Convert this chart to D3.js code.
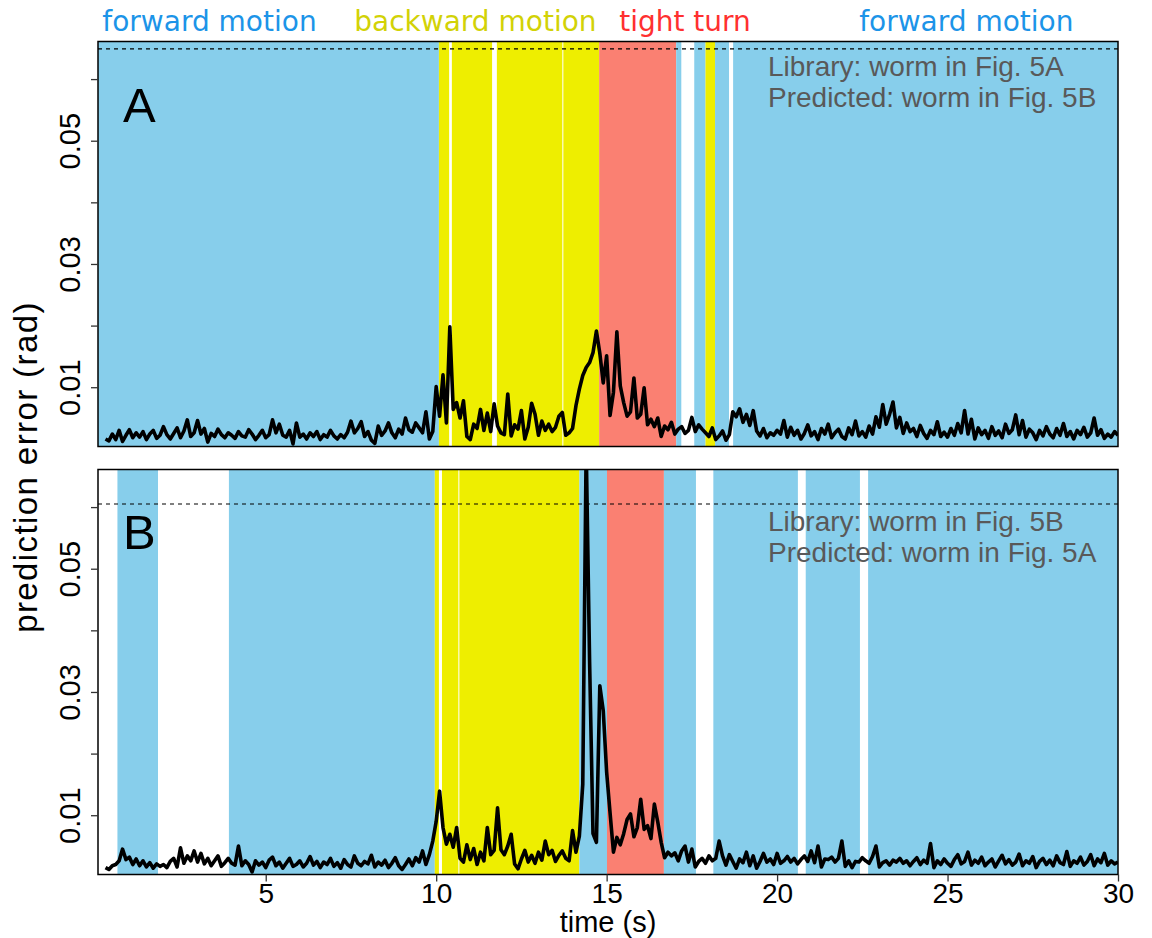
<!DOCTYPE html>
<html>
<head>
<meta charset="utf-8">
<script src="https://cdn.jsdelivr.net/npm/d3@7"></script>
<style>
  body { margin: 0; background: #fff; }
  svg { display: block; }
</style>
</head>
<body>
<div id="chart"></div>
<script>
const width = 1152;
const height = 938;

// sampling of the error traces (s)
const tStart = 0.3;
const tStep = 0.1;

// prediction error, in units of 0.001 rad
const errorA = [
  1.6, 1.3, 2.4, 1.5, 3.0, 1.2, 2.2,
  3.1, 1.8, 2.6, 1.9, 2.8, 1.5, 2.4, 3.0, 1.7, 2.2,
  3.6, 2.3, 1.6, 2.5, 3.4, 1.8, 2.9, 4.7, 2.0, 2.6,
  4.6, 2.4, 3.3, 1.1, 2.5, 2.0, 3.2, 2.3, 1.8, 2.6,
  2.2, 1.7, 2.8, 2.1, 1.9, 3.1, 2.4, 1.5, 2.2, 3.0,
  1.8, 2.3, 4.7, 2.6, 4.0, 2.2, 1.9, 3.0, 0.8, 4.2,
  1.9, 2.4, 1.6, 2.6, 2.0, 2.8, 1.5, 2.3, 1.9, 3.0,
  2.1, 1.6, 2.3, 1.8, 2.7, 4.5, 2.6, 3.3, 4.4, 2.0,
  2.8, 1.4, 0.9, 3.7, 2.2, 2.9, 4.2, 2.6, 1.8, 3.2,
  2.4, 5.0, 3.1, 2.7, 4.2, 3.4, 2.6, 6.0, 1.6, 2.8,
  10.1, 5.3, 12.0, 4.2, 19.8, 6.4, 7.5, 5.0, 7.8, 2.0,
  1.5, 4.0, 3.3, 6.4, 3.0, 5.8, 2.8, 7.3, 3.7, 2.6,
  2.3, 8.9, 2.1, 3.9, 3.2, 6.2, 1.6, 3.5, 7.4, 5.6,
  2.2, 4.5, 3.0, 4.0, 2.8, 3.5, 5.3, 5.9, 2.2, 2.6,
  3.3, 7.0, 9.7, 11.9, 13.2, 14.0, 15.6, 19.1, 15.5, 10.7,
  15.1, 5.4, 9.2, 19.0, 10.2, 7.5, 5.3, 6.0, 11.5, 5.0,
  5.6, 9.9, 3.9, 4.8, 3.6, 5.0, 2.0, 3.7, 3.1, 4.3,
  2.4, 3.2, 3.6, 2.5, 3.0, 5.1, 2.8, 3.9, 3.2, 2.6,
  2.0, 3.4, 1.5, 2.1, 2.9, 1.4, 2.3, 6.0, 5.2, 6.5,
  4.3, 5.6, 3.8, 6.2, 2.9, 2.1, 3.3, 1.8, 2.6, 2.2,
  3.0, 2.4, 4.6, 1.9, 3.5, 2.2, 3.0, 1.6, 2.5, 3.9,
  2.1, 2.8, 1.5, 3.3, 2.4, 4.0, 1.8, 2.6, 3.2, 2.0,
  1.6, 3.4, 2.3, 4.5, 2.1, 2.8, 1.9, 3.7, 2.4, 5.2,
  3.5, 7.2, 4.0, 5.6, 7.6, 3.4, 5.1, 2.5, 4.2, 2.8,
  3.3, 2.0, 3.8, 2.5, 1.7, 3.0, 2.3, 4.4, 2.0, 2.7,
  1.9, 3.3, 2.2, 4.1, 2.6, 6.2, 2.4, 4.8, 1.6, 3.4,
  2.3, 3.0, 1.7, 3.6, 2.2, 2.9, 1.8, 4.0, 2.5, 3.1,
  5.5, 2.3, 4.6, 1.9, 3.2, 2.6, 1.5, 3.0, 2.1, 3.6,
  2.4, 1.8, 3.3, 2.2, 4.1, 2.0, 2.8, 1.6, 3.0, 2.3,
  3.5, 1.9, 2.6, 5.0, 2.2, 3.1, 1.7, 2.4, 1.9, 2.8,
  2.2
];

const errorB = [
  1.5, 1.2, 1.8, 2.0, 2.6, 4.5, 2.8,
  3.2, 2.0, 2.9, 1.8, 2.6, 1.6, 2.3, 1.4, 2.1, 1.7,
  2.0, 1.5, 2.5, 3.0, 1.6, 4.7, 2.2, 3.4, 2.6, 4.2,
  2.4, 3.8, 2.1, 3.0, 1.8, 2.6, 3.4, 1.7, 2.3, 3.0,
  2.2, 1.9, 5.0, 1.8, 2.6, 2.0, 0.8, 2.6, 1.9, 2.4,
  1.5, 2.7, 3.2, 1.8, 2.4, 1.4, 2.2, 3.0, 1.7, 2.0,
  2.6, 1.6, 2.2, 3.3, 1.9, 2.5, 1.5, 2.4, 2.0, 3.0,
  1.7, 2.3, 1.4, 2.8, 2.0, 1.6, 3.4, 2.2, 1.8, 2.5,
  2.1, 3.5, 1.6, 2.4, 1.9, 2.7, 1.5, 2.2, 3.1, 1.8,
  1.2, 2.0, 2.9, 1.8, 3.1, 2.4, 4.2, 2.0, 3.6, 5.8,
  9.0, 13.9, 8.0, 5.3, 6.9, 4.8, 8.0, 3.0, 2.4, 5.2,
  2.8, 4.6, 2.0, 4.0, 2.6, 8.0, 3.6, 4.3, 11.2, 4.4,
  3.6, 5.0, 6.9, 2.1, 1.3, 2.9, 4.3, 2.4, 3.5, 2.2,
  4.0, 2.7, 5.8, 3.6, 4.3, 2.5, 3.5, 4.2, 3.0, 2.6,
  7.5, 4.0, 6.6, 15.0, 70.0, 35.0, 7.0, 5.6, 31.0, 27.0,
  17.0, 10.4, 4.0, 6.4, 5.2, 7.0, 9.3, 10.2, 6.5, 8.0,
  12.6, 7.7, 8.3, 6.2, 11.8, 8.9, 5.6, 3.1, 4.0, 3.4,
  3.9, 2.6, 4.2, 5.0, 2.4, 4.5, 1.6, 2.5, 3.0, 2.2,
  3.4, 2.6, 3.0, 5.8, 3.4, 1.9, 3.6, 2.5, 1.4, 2.9,
  2.3, 4.0, 1.8, 3.4, 1.4, 2.5, 3.8, 2.4, 2.9, 2.0,
  3.8, 2.2, 2.6, 3.3, 2.4, 3.0, 2.1, 2.8, 3.4, 2.5,
  4.2, 2.3, 5.0, 1.6, 2.9, 2.8, 3.2, 2.4, 3.0, 5.8,
  1.7, 2.6, 1.5, 2.5, 2.4, 3.1, 2.6, 2.2, 3.3, 5.0,
  1.6, 2.3, 2.6, 1.9, 2.7, 2.4, 3.0, 2.2, 2.6, 1.8,
  2.5, 3.1, 2.0, 2.7, 2.2, 5.4, 1.5, 2.6, 2.0, 2.9,
  2.2, 1.7, 2.8, 3.6, 2.1, 2.5, 4.0, 1.9, 2.7, 2.2,
  3.2, 1.8, 2.4, 2.9, 1.6, 2.6, 3.5, 2.1, 2.8, 1.9,
  2.4, 3.7, 1.8, 2.6, 2.2, 3.3, 1.5, 2.5, 3.0, 2.0,
  2.7, 1.8, 3.4, 2.3, 2.0, 4.1, 1.7, 2.6, 2.2, 3.2,
  1.9, 2.5, 3.6, 1.8, 2.9, 2.3, 3.8, 1.9, 2.6, 2.1,
  2.4
];

// behaviour intervals: [start (s), end (s), state]
const bandsA = [
  [0, 10.08, "forward"],
  [10.08, 10.38, "backward"],
  [10.46, 11.64, "backward"],
  [11.78, 13.70, "backward"],
  [13.73, 14.78, "backward"],
  [14.78, 17.04, "turn"],
  [17.04, 17.19, "forward"],
  [17.57, 17.90, "forward"],
  [17.90, 18.18, "backward"],
  [18.18, 18.59, "forward"],
  [18.71, 30.1, "forward"]
];

const bandsB = [
  [0.65, 1.84, "forward"],
  [3.92, 9.96, "forward"],
  [9.96, 10.08, "backward"],
  [10.17, 10.65, "backward"],
  [10.68, 14.20, "backward"],
  [14.20, 15.01, "forward"],
  [15.01, 16.68, "turn"],
  [16.68, 17.62, "forward"],
  [18.13, 20.61, "forward"],
  [20.84, 22.43, "forward"],
  [22.67, 30.1, "forward"]
];

// dashed reference level in each panel (rad)
const thresholdA = 0.0649;
const thresholdB = 0.0605;

const stateColors = { forward: "#87ceeb", backward: "#eeee00", turn: "#fa8072" };

// labels above the top panel, centred on these times (s)
const topLabels = ["forward motion", "backward motion", "tight turn", "forward motion"];
const topLabelTimes = [3.35, 11.15, 17.3, 25.55];
const topLabelColors = ["#1c94e8", "#d2d206", "#ff3030", "#1c94e8"];

const panelLetters = ["A", "B"];
const legendA = ["Library: worm in Fig. 5A", "Predicted: worm in Fig. 5B"];
const legendB = ["Library: worm in Fig. 5B", "Predicted: worm in Fig. 5A"];

const yTicks = [0.01, 0.02, 0.03, 0.04, 0.05, 0.06];
const yLabelled = [0.01, 0.03, 0.05];
const xTicks = [5, 10, 15, 20, 25, 30];

const left = 98, right = 1118;
const panels = [
  { top: 41.5, bottom: 446.5, values: errorA, bands: bandsA, threshold: thresholdA,
    letter: panelLetters[0], legend: legendA, legendTop: 34.5 },
  { top: 469.5, bottom: 874.5, values: errorB, bands: bandsB, threshold: thresholdB,
    letter: panelLetters[1], legend: legendB, legendTop: 61.5 }
];

const x = d3.scaleLinear().domain([0.08, 30]).range([left, right]);

const svg = d3.select("#chart")
  .append("svg")
  .attr("width", width)
  .attr("height", height)
  .style("font-family", "'Liberation Sans', Arial, sans-serif");

const line = d3.line()
  .x(d => x(d.t))
  .y(d => d.y);

panels.forEach((p, pi) => {
  const y = d3.scaleLinear().domain([0.00038, 0.0661]).range([p.bottom, p.top]);
  const g = svg.append("g");

  const clipId = "clip" + pi;
  svg.append("clipPath").attr("id", clipId)
    .append("rect")
    .attr("x", left).attr("y", p.top)
    .attr("width", right - left).attr("height", p.bottom - p.top);

  // behaviour bands
  g.append("g")
    .attr("clip-path", `url(#${clipId})`)
    .selectAll("rect")
    .data(p.bands)
    .join("rect")
    .attr("x", d => x(d[0]))
    .attr("width", d => x(d[1]) - x(d[0]))
    .attr("y", p.top)
    .attr("height", p.bottom - p.top)
    .attr("fill", d => stateColors[d[2]]);

  // dashed level
  g.append("line")
    .attr("x1", left).attr("x2", right)
    .attr("y1", y(p.threshold)).attr("y2", y(p.threshold))
    .attr("stroke", "#000")
    .attr("stroke-width", 1.1)
    .attr("stroke-dasharray", "4,4");

  // legend text (under the trace, as in the original)
  g.selectAll(".legend")
    .data(p.legend)
    .join("text")
    .attr("x", 768)
    .attr("y", (d, i) => p.top + p.legendTop + i * 31)
    .attr("fill", "#595959")
    .style("font-size", "28px")
    .text(d => d);

  // error trace
  const series = p.values.map((v, i) => ({ t: tStart + i * tStep, y: y(v / 1000) }));
  g.append("path")
    .attr("clip-path", `url(#${clipId})`)
    .datum(series)
    .attr("d", line)
    .attr("fill", "none")
    .attr("stroke", "#000")
    .attr("stroke-width", 3.6)
    .attr("stroke-linejoin", "round");

  // frame
  g.append("rect")
    .attr("x", left).attr("y", p.top)
    .attr("width", right - left).attr("height", p.bottom - p.top)
    .attr("fill", "none")
    .attr("stroke", "#000")
    .attr("stroke-width", 1.5);

  // y axis
  const yAxis = g.append("g")
    .attr("transform", `translate(${left},0)`)
    .call(d3.axisLeft(y)
      .tickValues(yTicks)
      .tickSize(7)
      .tickFormat(d => yLabelled.some(v => Math.abs(v - d) < 1e-9) ? d3.format(".2f")(d) : ""));
  yAxis.select(".domain").remove();
  yAxis.selectAll(".tick line").attr("stroke", "#333").attr("stroke-width", 1.3);
  yAxis.selectAll(".tick text")
    .attr("x", null).attr("dy", null)
    .attr("transform", "translate(-18,0) rotate(-90)")
    .attr("text-anchor", "middle")
    .attr("fill", "#000")
    .style("font-size", "29px")
    .style("font-family", "'Liberation Sans', Arial, sans-serif");

  // panel letter
  g.append("text")
    .attr("x", 123).attr("y", p.top + (pi === 0 ? 80 : 79))
    .style("font-size", "49px")
    .text(p.letter);
});

// x axis on the lower panel
const xAxis = svg.append("g")
  .attr("transform", `translate(0,${panels[1].bottom})`)
  .call(d3.axisBottom(x).tickValues(xTicks).tickSize(7).tickPadding(2).tickFormat(d3.format("d")));
xAxis.select(".domain").remove();
xAxis.selectAll(".tick line").attr("stroke", "#333").attr("stroke-width", 1.3);
xAxis.selectAll(".tick text")
  .attr("fill", "#000")
  .style("font-size", "28px")
  .style("font-family", "'Liberation Sans', Arial, sans-serif");

// axis titles
svg.append("text")
  .attr("x", 608).attr("y", 932)
  .attr("text-anchor", "middle")
  .style("font-size", "29px")
  .text("time (s)");

svg.append("text")
  .attr("transform", "translate(37,467) rotate(-90)")
  .attr("text-anchor", "middle")
  .style("font-size", "33px")
  .style("letter-spacing", "1.4px")
  .text("prediction error (rad)");

// behaviour labels above the top panel
svg.selectAll(".top-label")
  .data(topLabels)
  .join("text")
  .attr("x", (d, i) => x(topLabelTimes[i]))
  .attr("y", 31)
  .attr("text-anchor", "middle")
  .attr("fill", (d, i) => topLabelColors[i])
  .style("font-family", "'DejaVu Sans', sans-serif")
  .style("font-size", "28px")
  .text(d => d);
</script>
</body>
</html>
